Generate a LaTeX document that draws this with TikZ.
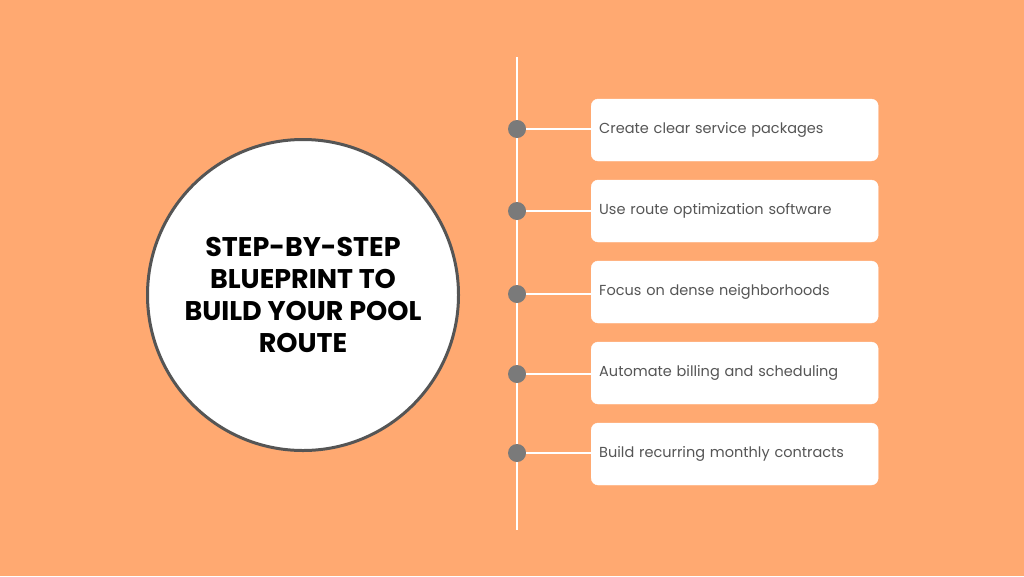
\documentclass[tikz,border=0pt]{standalone}
\usepackage{fontspec}
\setmainfont{Poppins}
\usetikzlibrary{positioning}
\definecolor{bgorange}{HTML}{FFA971}
\definecolor{dotgray}{HTML}{7A7A7A}
\definecolor{txtgray}{HTML}{555555}
\tikzset{
  stepbox/.style={draw=white,fill=white,rounded corners=7pt,minimum width=287pt,minimum height=62pt,
    text width=271pt,align=left,font=\fontsize{14.5}{17}\selectfont,text=txtgray,anchor=west},
  dot/.style={circle,fill=dotgray,minimum size=18pt,inner sep=0pt},
  rail/.style={white,line width=2.5pt}
}
\begin{document}
\begin{tikzpicture}[x=1pt,y=-1pt]
    \useasboundingbox[fill=bgorange] (0,0) rectangle (1024,576);
    \node[circle,draw=txtgray,line width=3pt,fill=white,minimum size=311pt,align=center,
      font=\bfseries\fontsize{27}{32}\selectfont,text=black] (title) at (303,295)
      {STEP-BY-STEP\\BLUEPRINT TO\\BUILD YOUR POOL\\ROUTE};
    \coordinate (top) at (517,57);
    \coordinate (bot) at (517,530);
    \draw[rail] (top) -- (bot);
    \node[stepbox] (s1) at (591,130) {Create clear service packages};
    \node[stepbox] (s2) at (591,211) {Use route optimization software};
    \node[stepbox] (s3) at (591,292) {Focus on dense neighborhoods};
    \node[stepbox] (s4) at (591,373) {Automate billing and scheduling};
    \node[stepbox] (s5) at (591,454) {Build recurring monthly contracts};
    \foreach \i/\y in {1/129,2/211,3/294,4/374,5/453} {
      \node[dot] (d\i) at (517,\y) {};
      \draw[rail] (d\i) -- (d\i -| s\i.west);
    }
\end{tikzpicture}
\end{document}
